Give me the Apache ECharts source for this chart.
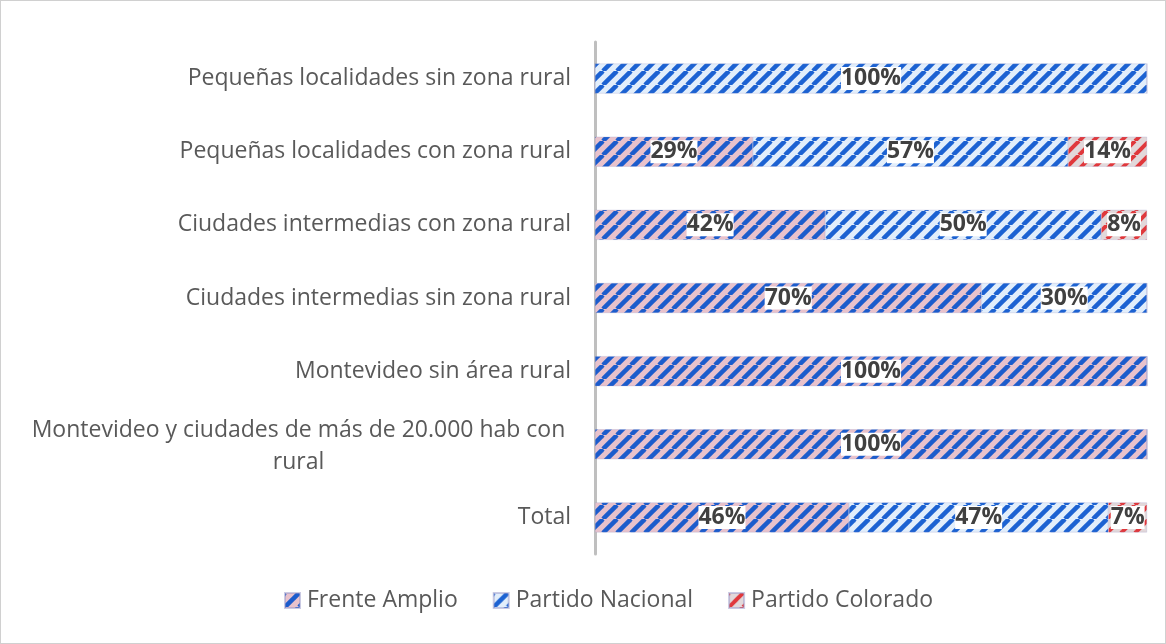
<!DOCTYPE html>
<html>
<head>
<meta charset="utf-8">
<script src="https://cdn.jsdelivr.net/npm/echarts@6/dist/echarts.min.js"></script>
<style>
  html,body{margin:0;padding:0;background:#fff;}
  #main{width:1166px;height:644px;box-sizing:border-box;border:1px solid #d0d0d0;}
</style>
</head>
<body>
<div id="main"></div>
<script>
// categories, bottom to top (category axis draws first item at the bottom)
var categories = [
  'Total',
  'Montevideo y ciudades de más de 20.000 hab con rural',
  'Montevideo sin área rural',
  'Ciudades intermedias sin zona rural',
  'Ciudades intermedias con zona rural',
  'Pequeñas localidades con zona rural',
  'Pequeñas localidades sin zona rural'
];
var frenteAmplio     = [46, 100, 100, 70, 41.7, 28.6, 0];
var partidoNacional  = [47, 0, 0, 30, 50, 57.1, 100];
var partidoColorado  = [7, 0, 0, 0, 8.3, 14.3, 0];

function stripes(bg, fg, w){
  var s = 14;
  var c = document.createElement('canvas');
  c.width = s; c.height = s;
  var ctx = c.getContext('2d');
  ctx.fillStyle = bg;
  ctx.fillRect(0, 0, s, s);
  ctx.strokeStyle = fg;
  ctx.lineWidth = w;
  for (var k = -1; k <= 1; k++) {
    ctx.beginPath();
    ctx.moveTo(k * s, s);
    ctx.lineTo(k * s + s, 0);
    ctx.stroke();
  }
  return {image: c, repeat: 'repeat'};
}

var fillFrente = stripes('#e8c2cc', '#1c5ccc', 4.5);
var fillNacional = stripes('#e2eefb', '#1c62d2', 4.5);
var fillColorado = stripes('#e2d8da', '#e0383c', 4);

var chart = echarts.init(document.getElementById('main'));

function lbl(p){
  if (!p.value) return '';
  return Math.round(p.value) + '%';
}

var labelStyle = {
  show: true,
  position: 'inside',
  formatter: lbl,
  fontFamily: 'Open Sans',
  fontWeight: 'bold',
  fontSize: 23,
  color: '#404040',
  backgroundColor: '#ffffff',
  padding: [0, 0]
};

function mkSeries(name, data, fill){
  return {
    name: name,
    type: 'bar',
    stack: 'total',
    data: data,
    barWidth: 30,
    itemStyle: {color: fill, borderColor: 'rgba(150,150,200,0.5)', borderWidth: 0.5},
    label: labelStyle
  };
}

chart.setOption({
  animation: false,
  grid: {left: 594, right: 18, top: 41, bottom: 89, containLabel: false},
  xAxis: {
    type: 'value', min: 0, max: 100, show: false
  },
  yAxis: {
    type: 'category',
    data: categories,
    axisLine: {show: true, lineStyle: {color: '#bfbfbf', width: 3}},
    axisTick: {show: false},
    axisLabel: {
      margin: 24,
      fontFamily: 'Open Sans',
      fontSize: 23,
      color: '#595959',
      formatter: function(v){
        if (v.indexOf('20.000') >= 0) {
          return '{c|Montevideo y ciudades de más de 20.000 hab con}\n{c|rural}';
        }
        return v;
      },
      rich: {
        c: {width: 545, align: 'center', fontFamily: 'Open Sans', fontSize: 23, color: '#595959', lineHeight: 32, padding: [4, 0, 0, 0]}
      }
    }
  },
  legend: {
    top: 583,
    left: 278,
    icon: 'rect',
    itemWidth: 15,
    itemHeight: 15,
    itemGap: 35,
    textStyle: {fontFamily: 'Open Sans', fontSize: 23, color: '#595959', padding: [0, 0, 0, 2]},
    data: ['Frente Amplio', 'Partido Nacional', 'Partido Colorado']
  },
  series: [
    mkSeries('Frente Amplio', frenteAmplio, fillFrente),
    mkSeries('Partido Nacional', partidoNacional, fillNacional),
    mkSeries('Partido Colorado', partidoColorado, fillColorado)
  ]
});
</script>
</body>
</html>
